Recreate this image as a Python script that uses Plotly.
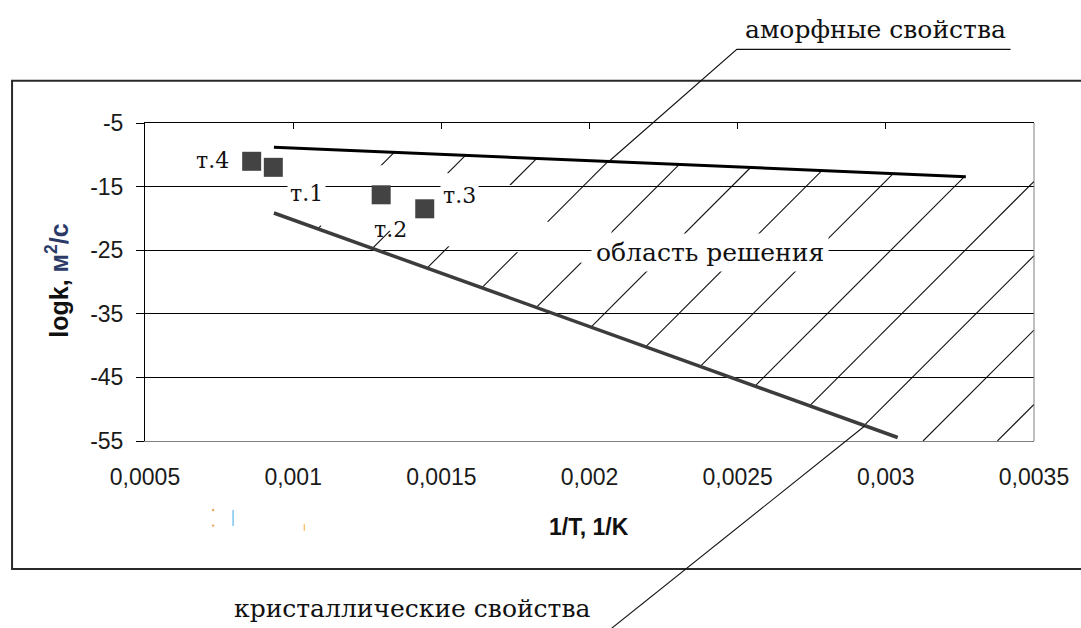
import plotly.graph_objects as go

# ---------------- data ----------------
upper_x = [0.000935, 0.00327]          # "amorphous" boundary line
upper_y = [-8.8, -13.44]
lower_x = [0.000935, 0.00304]          # "crystalline" boundary line
lower_y = [-19.15, -54.45]
point_x = [0.000933, 0.001297, 0.001444, 0.00086]
point_y = [-11.97, -16.29, -18.49, -11.02]
point_labels = ["т.1", "т.2", "т.3", "т.4"]
x_ticks = [0.0005, 0.001, 0.0015, 0.002, 0.0025, 0.003, 0.0035]
x_ticktext = ["0,0005", "0,001", "0,0015", "0,002", "0,0025", "0,003", "0,0035"]
y_ticks = [-55, -45, -35, -25, -15, -5]
y_ticktext = ["-55", "-45", "-35", "-25", "-15", "-5"]
x_title = "<b>1/T, 1/K</b>"
y_title = "<b>logk, <span style='color:#2b3a67'>м<sup>2</sup>/с</span></b>"
region_label = "область решения"
amorph_label = "аморфные свойства"
cryst_label = "кристаллические свойства"

# ---------------- geometry / style ----------------
W, H = 1081, 628
PL, PR, PT, PB = 144.5, 1034.5, 122.7, 441.0
XR = [0.0005, 0.0035]
YR = [-55, -5]
SERIF = "DejaVu Serif"
SANS = "Liberation Sans, Arial, sans-serif"


def px_paper_x(px):
    return (px - PL) / (PR - PL)


def px_paper_y(py):
    return (PB - py) / (PB - PT)


def px_data_x(px):
    return XR[0] + (px - PL) / (PR - PL) * (XR[1] - XR[0])


def px_data_y(py):
    return YR[0] + (PB - py) / (PB - PT) * (YR[1] - YR[0])


fig = go.Figure()

fig.add_trace(go.Scatter(x=upper_x, y=upper_y, mode="lines",
                         line=dict(color="#000000", width=3), hoverinfo="skip"))
fig.add_trace(go.Scatter(x=lower_x, y=lower_y, mode="lines",
                         line=dict(color="#3c3c3c", width=3.5), hoverinfo="skip"))
fig.add_trace(go.Scatter(x=point_x, y=point_y, mode="markers",
                         marker=dict(symbol="square", size=19, color="#434343",
                                     line=dict(width=0)), hoverinfo="skip"))
fig.add_trace(go.Scatter(x=[None], y=[None], xaxis="x2", mode="lines",
                         hoverinfo="skip"))

shapes = []

# ---- hatching of the solution region (parallel lines, pixel slope 1) ----
slope = ((YR[1] - YR[0]) / (PB - PT)) / ((XR[1] - XR[0]) / (PR - PL))
us = (upper_y[1] - upper_y[0]) / (upper_x[1] - upper_x[0])
ls = (lower_y[1] - lower_y[0]) / (lower_x[1] - lower_x[0])
HATCH_REF_PX = 1040.0   # crossing of the first hatch line with y = -25
HATCH_STEP_PX = 74.4
for k in range(-2, 11):
    cx = px_data_x(HATCH_REF_PX - HATCH_STEP_PX * k)
    xt = (upper_y[0] - us * upper_x[0] + 25 + slope * cx) / (slope - us)
    yt = -25 + slope * (xt - cx)
    xb = (lower_y[0] - ls * lower_x[0] + 25 + slope * cx) / (slope - ls)
    if xb > lower_x[1]:
        xb = cx + (YR[0] + 25) / slope
    yb = -25 + slope * (xb - cx)
    if xb >= XR[1]:
        continue
    if xt > XR[1]:
        xt = XR[1]
        yt = -25 + slope * (xt - cx)
    shapes.append(dict(type="line", xref="x", yref="y", layer="below",
                       x0=xb, y0=yb, x1=xt, y1=yt,
                       line=dict(color="#111111", width=1.1)))

# white mask where the hatching is interrupted (left part)
mask_px = [(300, 165), (382, 165), (448, 173), (512, 185), (548, 222),
           (612, 230), (604, 266), (585, 263), (518, 252), (452, 247),
           (388, 230), (322, 226), (300, 215)]
path = "M " + " L ".join(f"{px_data_x(a)},{px_data_y(b)}" for a, b in mask_px) + " Z"
shapes.append(dict(type="path", xref="x", yref="y", layer="below", path=path,
                   fillcolor="white", line=dict(width=0)))

# right border of plot area
shapes.append(dict(type="line", xref="paper", yref="paper", x0=1, x1=1, y0=0, y1=1,
                   line=dict(color="#808080", width=1)))

# outer frame (open to the right)
fx = [px_paper_x(1095), px_paper_x(11.4), px_paper_x(11.4), px_paper_x(1095)]
fy = [px_paper_y(80.5), px_paper_y(80.5), px_paper_y(569), px_paper_y(569)]
shapes.append(dict(type="path", xref="paper", yref="paper",
                   path=f"M {fx[0]},{fy[0]} L {fx[1]},{fy[1]} L {fx[2]},{fy[2]} L {fx[3]},{fy[3]}",
                   line=dict(color="#2a2a2a", width=2)))

# leader for "аморфные свойства"
lp = [(608.5, 161.5), (737, 49), (1011, 49)]
shapes.append(dict(type="path", xref="paper", yref="paper",
                   path="M " + " L ".join(f"{px_paper_x(a)},{px_paper_y(b)}" for a, b in lp),
                   line=dict(color="#111111", width=1.1)))
# leader for "кристаллические свойства"
shapes.append(dict(type="line", xref="paper", yref="paper",
                   x0=px_paper_x(865), y0=px_paper_y(426),
                   x1=px_paper_x(606), y1=px_paper_y(633),
                   line=dict(color="#111111", width=1.1)))

# small stray colour marks under the axis
for cxp, cyp, col in [(212.7, 510, "#f2a55a"), (212.7, 525.7, "#f2a55a")]:
    shapes.append(dict(type="circle", xref="paper", yref="paper",
                       x0=px_paper_x(cxp - 1.2), x1=px_paper_x(cxp + 1.2),
                       y0=px_paper_y(cyp - 1.2), y1=px_paper_y(cyp + 1.2),
                       fillcolor=col, line=dict(width=0)))
shapes.append(dict(type="line", xref="paper", yref="paper",
                   x0=px_paper_x(232.7), x1=px_paper_x(232.7),
                   y0=px_paper_y(510), y1=px_paper_y(526),
                   line=dict(color="#7cc6ef", width=1.5)))
shapes.append(dict(type="line", xref="paper", yref="paper",
                   x0=px_paper_x(304), x1=px_paper_x(304),
                   y0=px_paper_y(524), y1=px_paper_y(531),
                   line=dict(color="#f6c870", width=1.5)))

annotations = []
label_shift = [(33, -26), (9, -35), (34.5, 13), (-39, 1)]
label_bg = ["white", "rgba(0,0,0,0)", "white", "rgba(0,0,0,0)"]
for i, t in enumerate(point_labels):
    annotations.append(dict(x=point_x[i], y=point_y[i], xref="x", yref="y",
                            text=t, showarrow=False,
                            xanchor="center", yanchor="middle",
                            xshift=label_shift[i][0], yshift=label_shift[i][1],
                            font=dict(family=SERIF, size=22, color="#111111"),
                            bgcolor=label_bg[i], borderpad=2))


def paper_text(px, py, text, size, family, **kw):
    d = dict(x=px_paper_x(px), y=px_paper_y(py), xref="paper", yref="paper",
             text=text, showarrow=False, xanchor="center", yanchor="middle",
             font=dict(family=family, size=size, color="#111111"))
    d.update(kw)
    return d


annotations.append(paper_text(710, 252, region_label, 25, SERIF,
                              bgcolor="white", borderpad=4))
annotations.append(paper_text(876, 29, amorph_label, 25, SERIF))
annotations.append(paper_text(412, 609, cryst_label, 25, SERIF))
annotations.append(paper_text(57, 281, y_title, 25, SANS, textangle=-90))
annotations.append(paper_text(589, 527, x_title, 23, SANS))

fig.update_layout(
    width=W, height=H, autosize=False,
    margin=dict(l=PL, r=W - PR, t=PT, b=H - PB, pad=0),
    paper_bgcolor="white", plot_bgcolor="white",
    showlegend=False,
    xaxis=dict(range=XR, tickvals=x_ticks, ticktext=x_ticktext, ticks="",
               showline=True, linecolor="#808080", linewidth=1,
               showgrid=False, zeroline=False, ticklabelstandoff=15,
               tickfont=dict(family=SANS, size=23, color="#1a1a1a")),
    xaxis2=dict(range=XR, overlaying="x", side="top", anchor="y",
                tickvals=x_ticks, ticks="inside", ticklen=6, tickcolor="#000000",
                showticklabels=False, showline=True, linecolor="#000000",
                linewidth=1, showgrid=False, zeroline=False),
    yaxis=dict(range=YR, tickvals=y_ticks, ticktext=y_ticktext,
               ticks="outside", ticklen=8, tickcolor="#000000",
               showline=True, linecolor="#000000", linewidth=1,
               showgrid=True, gridcolor="#000000", gridwidth=1, zeroline=False,
               ticklabelstandoff=8,
               tickfont=dict(family=SANS, size=23, color="#1a1a1a")),
    shapes=shapes,
    annotations=annotations,
)

fig.write_html("out.html")
